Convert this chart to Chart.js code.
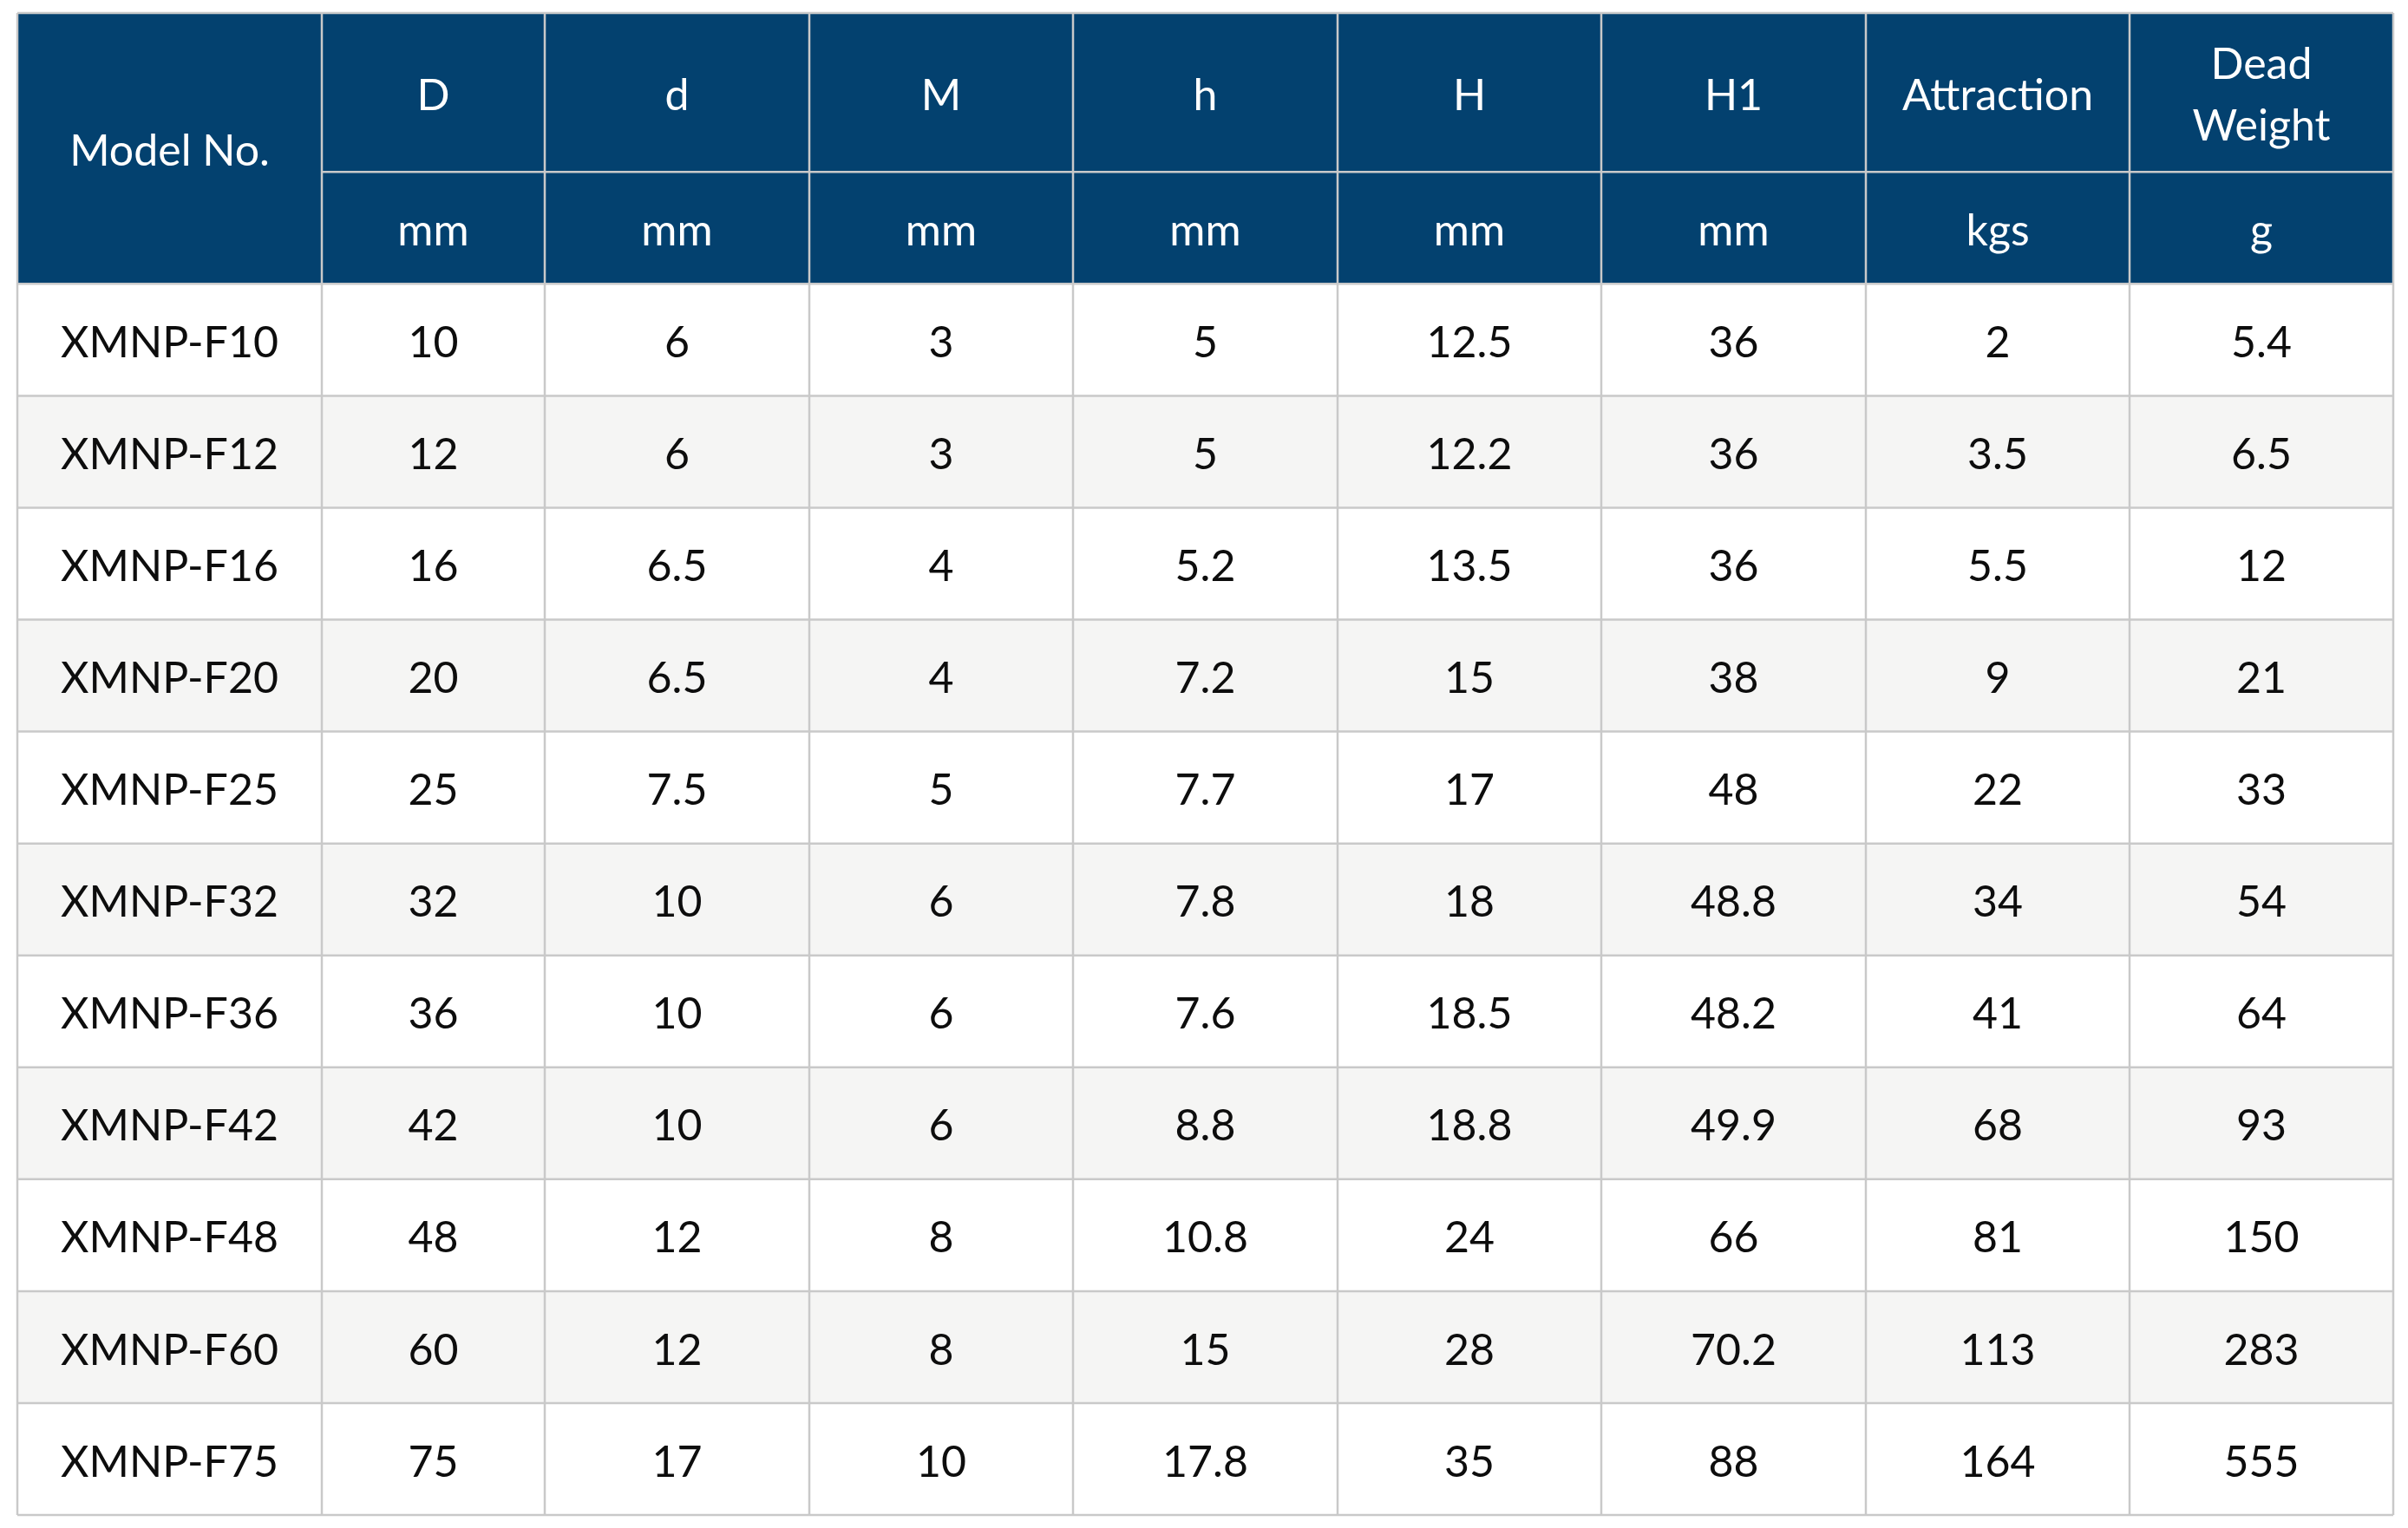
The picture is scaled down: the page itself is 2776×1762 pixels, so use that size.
<!DOCTYPE html>
<html>
<head>
<meta charset="utf-8">
<script src="https://cdn.jsdelivr.net/npm/chart.js@4.4.1/dist/chart.umd.min.js"></script>
<style>
  html, body { margin: 0; padding: 0; background: #ffffff; }
  #wrap { width: 2776px; height: 1762px; position: relative; }
</style>
</head>
<body>
<div id="wrap"><canvas id="specTable"></canvas></div>
<script>
// table data
var models = ['XMNP-F10', 'XMNP-F12', 'XMNP-F16', 'XMNP-F20', 'XMNP-F25', 'XMNP-F32',
              'XMNP-F36', 'XMNP-F42', 'XMNP-F48', 'XMNP-F60', 'XMNP-F75'];
var D = [10, 12, 16, 20, 25, 32, 36, 42, 48, 60, 75];
var d = [6, 6, 6.5, 6.5, 7.5, 10, 10, 10, 12, 12, 17];
var M = [3, 3, 4, 4, 5, 6, 6, 6, 8, 8, 10];
var h = [5, 5, 5.2, 7.2, 7.7, 7.8, 7.6, 8.8, 10.8, 15, 17.8];
var H = [12.5, 12.2, 13.5, 15, 17, 18, 18.5, 18.8, 24, 28, 35];
var H1 = [36, 36, 36, 38, 48, 48.8, 48.2, 49.9, 66, 70.2, 88];
var attraction = [2, 3.5, 5.5, 9, 22, 34, 41, 68, 81, 113, 164];
var deadWeight = [5.4, 6.5, 12, 21, 33, 54, 64, 93, 150, 283, 555];

var firstHeader = 'Model No.';
var headers = ['D', 'd', 'M', 'h', 'H', 'H1', 'Attraction', ['Dead', 'Weight']];
var units = ['mm', 'mm', 'mm', 'mm', 'mm', 'mm', 'kgs', 'g'];

var columns = [D, d, M, h, H, H1, attraction, deadWeight];

// layout (column widths in x-scale units, row heights in y-scale units)
var colWidths = [351, 257, 305, 304, 305, 304, 305, 304, 304];
var headRow1 = 1.42, headRow2 = 1.0;

var colEdges = [0];
colWidths.forEach(function (w, i) { colEdges.push(colEdges[i] + w); });
var rowEdges = [0, headRow1, headRow1 + headRow2];
models.forEach(function (m, i) { rowEdges.push(rowEdges[i + 2] + 1); });

var NAVY = '#03416f';
var GRID = '#c9c9c9';
var STRIPE = '#f5f5f4';
var FONT = 'Lato, "Open Sans", sans-serif';
var TEXT_DY = 4; // nudge text down a little to sit like the original

var tablePlugin = {
  id: 'tablePlugin',
  beforeDatasetsDraw: function (chart) {
    var c = chart.ctx;
    var xs = chart.scales.x, ys = chart.scales.y;
    var px = function (v) { return xs.getPixelForValue(v); };
    var py = function (v) { return ys.getPixelForValue(v); };
    var nCols = colWidths.length;
    var last = rowEdges.length - 1;

    c.save();
    // header background
    c.fillStyle = NAVY;
    c.fillRect(px(0), py(0), px(colEdges[nCols]) - px(0), py(rowEdges[2]) - py(0));

    // body stripes
    for (var r = 0; r < models.length; r++) {
      c.fillStyle = r % 2 === 0 ? '#ffffff' : STRIPE;
      var y0 = py(rowEdges[r + 2]), y1 = py(rowEdges[r + 3]);
      c.fillRect(px(0), y0, px(colEdges[nCols]) - px(0), y1 - y0);
    }

    // grid lines
    c.strokeStyle = GRID;
    c.lineWidth = 2.5;
    c.beginPath();
    c.moveTo(px(0), py(0)); c.lineTo(px(colEdges[nCols]), py(0));
    c.moveTo(px(colEdges[1]), py(rowEdges[1])); c.lineTo(px(colEdges[nCols]), py(rowEdges[1]));
    for (var k = 2; k <= last; k++) {
      c.moveTo(px(0), py(rowEdges[k])); c.lineTo(px(colEdges[nCols]), py(rowEdges[k]));
    }
    for (var j = 0; j <= nCols; j++) {
      c.moveTo(px(colEdges[j]), py(0)); c.lineTo(px(colEdges[j]), py(rowEdges[last]));
    }
    c.stroke();

    // text
    c.textAlign = 'center';
    c.textBaseline = 'middle';
    c.font = '50px ' + FONT;
    var cx = function (j) { return (px(colEdges[j]) + px(colEdges[j + 1])) / 2; };
    var cy = function (k) { return (py(rowEdges[k]) + py(rowEdges[k + 1])) / 2 + TEXT_DY; };

    c.fillStyle = '#ffffff';
    c.fillText(firstHeader, cx(0), (py(0) + py(rowEdges[2])) / 2 + TEXT_DY);
    headers.forEach(function (t, i) {
      if (Array.isArray(t)) {
        var yc = cy(0), gap = 35.5;
        c.fillText(t[0], cx(i + 1), yc - gap);
        c.fillText(t[1], cx(i + 1), yc + gap);
      } else {
        c.fillText(t, cx(i + 1), cy(0));
      }
    });
    units.forEach(function (u, i) { c.fillText(u, cx(i + 1), cy(1)); });

    c.fillStyle = '#0d0d0d';
    models.forEach(function (m, r) {
      c.fillText(m, cx(0), cy(r + 2));
      columns.forEach(function (col, i) {
        c.fillText(String(col[r]), cx(i + 1), cy(r + 2));
      });
    });
    c.restore();
  }
};

var ctx = document.getElementById('specTable').getContext('2d');
var specTable = new Chart(ctx, {
  type: 'scatter',
  data: { datasets: [] },
  options: {
    responsive: true,
    maintainAspectRatio: false,
    animation: false,
    layout: { padding: { left: 20, right: 17, top: 15, bottom: 15 } },
    plugins: { legend: { display: false }, tooltip: { enabled: false } },
    scales: {
      x: { type: 'linear', display: false, min: 0, max: colEdges[colEdges.length - 1] },
      y: { type: 'linear', display: false, reverse: true, min: 0, max: rowEdges[rowEdges.length - 1] }
    }
  },
  plugins: [tablePlugin]
});
</script>
</body>
</html>
